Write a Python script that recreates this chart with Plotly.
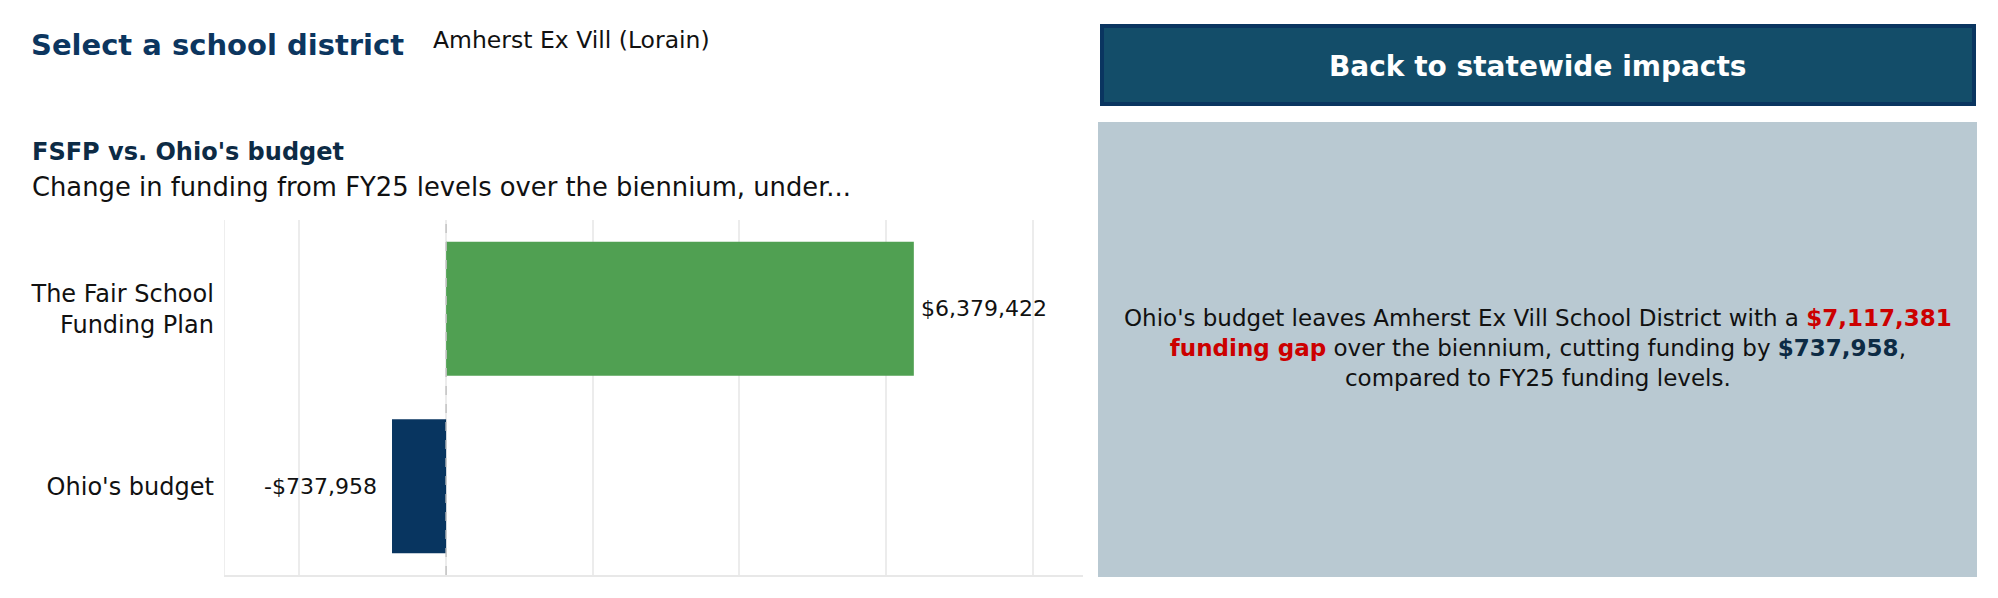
import plotly.graph_objects as go

W, H = 1998, 598

# ---- data ----
categories = ["The Fair School<br>Funding Plan", "Ohio's budget"]
values = [6379422, -737958]
bar_colors = ["#50A052", "#083560"]
district = "Amherst Ex Vill (Lorain)"
district_name = "Amherst Ex Vill School District"
funding_gap = 7117381
budget_cut = 737958
x_range = [-3.02e6, 8.68e6]
x_tick_step = 2e6

FONT = "DejaVu Sans"


def fmt(v):
    return ("-" if v < 0 else "") + "${:,.0f}".format(abs(v))


def px(x):
    return x / W


def py(y):
    return 1 - y / H


fig = go.Figure()
fig.add_trace(go.Bar(
    y=categories,
    x=values,
    orientation="h",
    marker=dict(color=bar_colors, line=dict(width=0)),
    hoverinfo="skip",
))

plot_left, plot_right, plot_top, plot_bottom = 224.7, 1082.5, 220, 575

fig.update_layout(
    width=W, height=H,
    margin=dict(l=0, r=0, t=0, b=0),
    paper_bgcolor="white",
    plot_bgcolor="white",
    showlegend=False,
    bargap=0.245,
    font=dict(family=FONT, color="#111111"),
    xaxis=dict(
        domain=[px(plot_left), px(plot_right)],
        range=x_range,
        tick0=0, dtick=x_tick_step,
        showticklabels=False,
        showgrid=True, gridcolor="#ececec", gridwidth=1.5,
        zeroline=False,
        showline=True, linecolor="#e8e8e8", linewidth=2,
        fixedrange=True,
    ),
    yaxis=dict(
        domain=[py(plot_bottom), py(plot_top)],
        autorange="reversed",
        showgrid=False,
        zeroline=False,
        showline=True, linecolor="#eeeeee", linewidth=1,
        ticks="", ticklabelstandoff=5,
        tickfont=dict(family=FONT, size=24, color="#111111"),
        fixedrange=True,
    ),
)

# zero reference line (dashed)
fig.add_shape(type="line", xref="x", yref="paper", x0=0, x1=0,
              y0=py(plot_bottom), y1=py(plot_top),
              line=dict(color="#c4c4c4", width=1.5, dash="dash"))

# button and panel
fig.add_shape(type="rect", xref="paper", yref="paper",
              x0=px(1102), x1=px(1974), y0=py(104), y1=py(26),
              fillcolor="#134D69", line=dict(color="#0A3560", width=4), layer="below")
fig.add_shape(type="rect", xref="paper", yref="paper",
              x0=px(1098), x1=px(1977), y0=py(577), y1=py(122),
              fillcolor="#B9C9D2", line=dict(width=0), layer="below")

ann = []
# value labels next to bars
for cat, v in zip(categories, values):
    ann.append(dict(text=fmt(v), x=v, y=cat, xref="x", yref="y",
                    xanchor="left" if v >= 0 else "right",
                    xshift=5 if v >= 0 else -13,
                    yanchor="middle", showarrow=False,
                    font=dict(family=FONT, size=22, color="#111111")))

ann.append(dict(text="<b>Select a school district</b>", x=px(29), y=py(45),
                xanchor="left", yanchor="middle",
                font=dict(family=FONT, size=29, color="#0C365F")))
ann.append(dict(text=district, x=px(431), y=py(40),
                xanchor="left", yanchor="middle",
                font=dict(family=FONT, size=23.5, color="#111111")))
ann.append(dict(text="<b>FSFP vs. Ohio's budget</b>", x=px(30), y=py(152),
                xanchor="left", yanchor="middle",
                font=dict(family=FONT, size=24, color="#0D2B45")))
ann.append(dict(text="Change in funding from FY25 levels over the biennium, under...",
                x=px(30), y=py(187), xanchor="left", yanchor="middle",
                font=dict(family=FONT, size=25.8, color="#111111")))
ann.append(dict(text="<b>Back to statewide impacts</b>", x=px(1538), y=py(66),
                xanchor="center", yanchor="middle",
                font=dict(family=FONT, size=28, color="white")))
panel_text = (
    "Ohio's budget leaves " + district_name + " with a "
    "<b><span style='color:#CC0000'>" + fmt(funding_gap) + "</span></b><br>"
    "<b><span style='color:#CC0000'>funding gap</span></b> over the biennium, cutting funding by "
    "<b><span style='color:#0D2B45'>" + fmt(budget_cut) + "</span></b>,<br>"
    "compared to FY25 funding levels."
)
ann.append(dict(text=panel_text, x=px(1538), y=py(348),
                xanchor="center", yanchor="middle", align="center",
                font=dict(family=FONT, size=23, color="#111111")))

for a in ann:
    a.setdefault("xref", "paper")
    a.setdefault("yref", "paper")
    a["showarrow"] = False
fig.update_layout(annotations=ann)

fig.write_html("out.html", config={"displayModeBar": False})
